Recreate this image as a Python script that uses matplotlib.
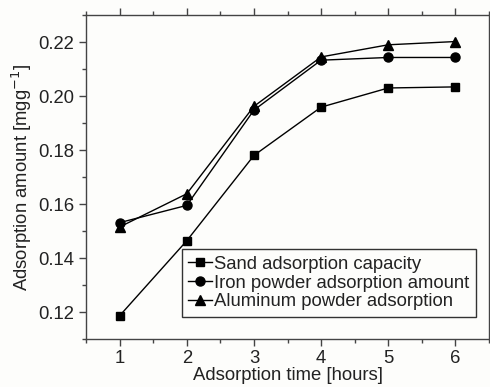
import numpy as np
import matplotlib.pyplot as plt
from matplotlib.ticker import MultipleLocator

plt.rcParams['font.family'] = ['Liberation Sans', 'DejaVu Sans']

# datos
hours = [1, 2, 3, 4, 5, 6]
sand = [0.1186, 0.1464, 0.1780, 0.1959, 0.2030, 0.2034]
iron = [0.1531, 0.1595, 0.1948, 0.2133, 0.2143, 0.2143]
aluminum = [0.1515, 0.1638, 0.1962, 0.2145, 0.2190, 0.2202]
labels = ['Sand adsorption capacity',
          'Iron powder adsorption amount',
          'Aluminum powder adsorption']

fig = plt.figure(figsize=(4.9, 3.87), dpi=100)
fig.patch.set_facecolor('#fdfdfb')
ax = fig.add_axes([0.1755, 0.124, 0.8225, 0.837])
ax.set_facecolor('#fdfdfb')

ax.plot(hours, sand, '-s', color='black', lw=1, ms=6, label=labels[0])
ax.plot(hours, iron, '-o', color='black', lw=1, ms=6.5, label=labels[1])
ax.plot(hours, aluminum, '-^', color='black', lw=1, ms=7, label=labels[2])

ax.set_xlim(0.5, 6.5)
ax.set_ylim(0.11, 0.23)
ax.xaxis.set_major_locator(MultipleLocator(1))
ax.xaxis.set_minor_locator(MultipleLocator(0.5))
ax.yaxis.set_major_locator(MultipleLocator(0.02))
ax.yaxis.set_minor_locator(MultipleLocator(0.01))
ax.yaxis.set_major_formatter(plt.FormatStrFormatter('%.2f'))

ax.tick_params(which='both', direction='out', top=True, right=True,
               colors='#444444', labelcolor='#222222', labelsize=13.3)
ax.tick_params(which='major', length=5, width=1)
ax.tick_params(which='minor', length=3, width=1)
ax.tick_params(axis='x', pad=3)
for s in ax.spines.values():
    s.set_color('#444444')
    s.set_linewidth(1)

ax.set_xlabel('Adsorption time [hours]', fontsize=13.3, color='#222222', labelpad=0)
ax.set_ylabel('Adsorption amount [mgg$^{-1}$]', fontsize=13.3, color='#222222', labelpad=3)

leg = ax.legend(loc='lower right', bbox_to_anchor=(0.99, 0.04), fontsize=13.3,
                handlelength=1.3, handletextpad=0.1, borderpad=0.35,
                labelspacing=0.1, frameon=True, fancybox=False, framealpha=1)
leg.get_frame().set_edgecolor('#333333')
leg.get_frame().set_linewidth(1)
leg.get_frame().set_facecolor('#fdfdfb')
for t in leg.get_texts():
    t.set_color('#222222')

plt.savefig('out.png', dpi=100, facecolor=fig.get_facecolor())
